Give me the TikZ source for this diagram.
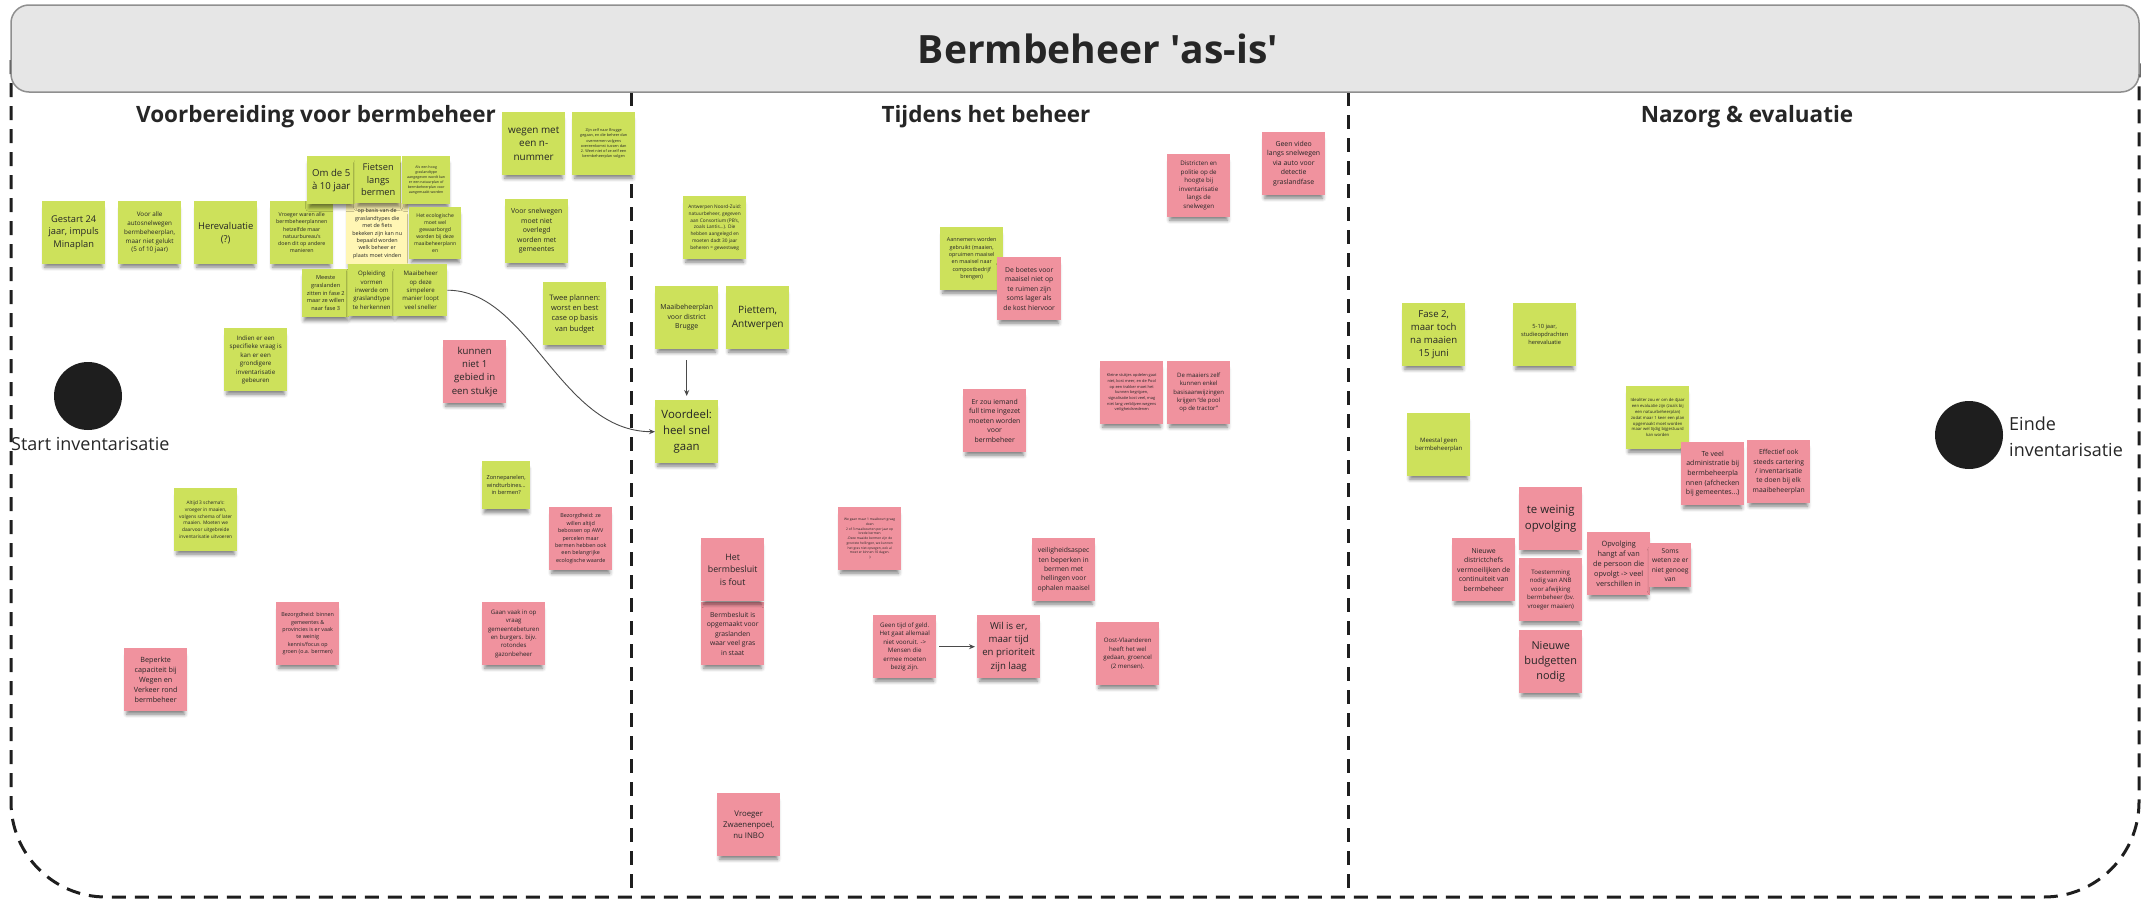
\documentclass[tikz,border=0pt]{standalone}
\usepackage{fontspec}
\setmainfont{Open Sans}
\usetikzlibrary{arrows.meta,shadows.blur}
\definecolor{ink}{HTML}{262626}
\definecolor{stickygreen}{HTML}{CDE15B}
\definecolor{stickypink}{HTML}{F0929E}
\definecolor{stickyyellow}{HTML}{FFF6B4}
\definecolor{headfill}{HTML}{E6E6E6}
\definecolor{headline}{HTML}{8F8F8F}
\definecolor{dot}{HTML}{1E1E1E}
\definecolor{wire}{HTML}{4A4A4A}
\tikzset{
  note/.style={anchor=north west, minimum width=63pt, minimum height=63pt,
    inner sep=1.5pt, align=center, text=ink,
    blur shadow={shadow xshift=0pt, shadow yshift=-6pt, shadow scale=0.92,
      shadow opacity=50, shadow blur radius=4pt}},
  gn/.style={note, fill=stickygreen},
  pn/.style={note, fill=stickypink},
  yn/.style={note, fill=stickyyellow},
  fs/.style 2 args={font=\fontsize{#1}{#2}\selectfont},
  wh/.style 2 args={minimum width=#1pt, minimum height=#2pt},
  frame/.style={draw=dot, line width=3pt, dash pattern=on 14pt off 9pt},
  lane/.style={font=\fontsize{22.5}{27}\selectfont\bfseries, text=ink},
  bigdot/.style={circle, fill=dot, minimum size=68pt, inner sep=0pt},
  arr/.style={draw=wire, line width=0.9pt, -{Stealth[length=6pt,width=5pt]}},
}
\begin{document}
\begin{tikzpicture}[x=1pt, y=-1pt]
\useasboundingbox (0,0) rectangle (2142,902);

% outer swimlane frame and lane dividers
\draw[frame, rounded corners=95pt] (11,60) -- (11,897) -- (2139,897) -- (2139,60);
\draw[frame] (631,92) -- (631,897);
\draw[frame] (1348,92) -- (1348,897);

% title bar
\node[draw=headline, fill=headfill, line width=1.5pt, rounded corners=18pt,
      minimum width=2128pt, minimum height=87pt] (hdr) at (1075,48.5) {};
\node[font=\fontsize{39}{47}\selectfont\bfseries, text=ink] (title) at (1098,48.5)
      {Bermbeheer \textquotesingle as-is\textquotesingle};

% lane titles
\node[lane] (lane1) at (316,117) {Voorbereiding voor bermbeheer};
\node[lane] (lane2) at (986,117) {Tijdens het beheer};
\node[lane] (lane3) at (1747,117) {Nazorg \& evaluatie};

% start and end markers
\node[bigdot] (startdot) at (88,396) {};
\node[anchor=base west, font=\fontsize{18}{26}\selectfont, text=ink, inner sep=0pt] (startlbl) at (11,450) {Start inventarisatie};
\node[bigdot] (enddot) at (1969,435) {};
\node[anchor=base west, align=left, font=\fontsize{18}{26}\selectfont, text=ink, inner sep=0pt] (endlbl) at (2009,456) {Einde\\inventarisatie};

% ---------- Voorbereiding voor bermbeheer ----------
\node[gn, fs={9.3}{12.8}] (gestart) at (42,201) {Gestart 24\\jaar, impuls\\Minaplan};
\node[gn, fs={6.3}{8.7}] (autosnel) at (118,201) {Voor alle\\autosnelwegen\\bermbeheerplan,\\maar niet gelukt\\(5 of 10 jaar)};
\node[gn, fs={9.4}{13}] (hereval) at (194,201) {Herevaluatie\\(?)};
\node[gn, fs={5.3}{7.3}] (vroeger) at (270,201) {Vroeger waren alle\\bermbeheerplannen\\hetzelfde maar\\natuurbureau's\\doen dit op andere\\manieren};
\node[yn, wh={62}{61}, fs={5.4}{7.4}] (opbasis) at (346,203) {op basis van de\\graslandtypes die\\met de fiets\\bekeken zijn kan nu\\bepaald worden\\welk beheer er\\plaats moet vinden};
\node[gn, wh={48}{48}, fs={9.6}{13.3}] (omde5) at (307,156) {Om de 5\\à 10 jaar};
\node[gn, wh={46}{47}, fs={9.3}{12.8}] (fietsen) at (355,156) {Fietsen\\langs\\bermen};
\node[gn, wh={48}{48}, fs={3.6}{5}] (hoog) at (402,156) {Als een hoog\\graslandtype\\aangegeven wordt kan\\er een natuurplan of\\bermbeheerplan voor\\aangemaakt worden};
\node[gn, wh={52}{52}, fs={5.1}{7}] (ecolog) at (409,207) {Het ecologische\\moet wel\\gewaarborgd\\worden bij deze\\maaibeheerplann\\en};
\node[gn, wh={47}{48}, fs={5.6}{7.7}] (meeste) at (302,269) {Meeste\\graslanden\\zitten in fase 2\\maar ze willen\\naar fase 3};
\node[gn, wh={47}{52}, fs={6.1}{8.4}] (opleiding) at (348,264) {Opleiding\\vormen\\inwerde om\\graslandtype\\te herkennen};
\node[gn, wh={53}{52}, fs={6.1}{8.4}] (maaisneller) at (394,264) {Maaibeheer\\op deze\\simpelere\\manier loopt\\veel sneller};
\node[gn, fs={6.2}{8.5}] (indien) at (224,328) {Indien er een\\specifieke vraag is\\kan er een\\grondigere\\inventarisatie\\gebeuren};
\node[gn, fs={9.9}{13.7}] (nnummer) at (502,112) {wegen met\\een n-\\nummer};
\node[gn, fs={3.8}{5.3}] (brugge1) at (572,112) {Zijn zelf naar Brugge\\gegaan, en die beheer dan\\overnemen volgens\\overeenkomst tussen dan\\2. Weet niet of ze zelf een\\bermbeheerplan volgen};
\node[gn, wh={63}{64}, fs={6.9}{9.5}] (snelwegen) at (505,199) {Voor snelwegen\\moet niet\\overlegd\\worden met\\gemeentes};
\node[gn, fs={7.5}{10.3}] (twee) at (543,282) {Twee plannen:\\worst en best\\case op basis\\van budget};
\node[pn, fs={9.6}{13.3}] (kunnen) at (443,340) {kunnen\\niet 1\\gebied in\\een stukje};
\node[gn, fs={4.8}{6.7}] (altijd) at (174,488) {Altijd 3 schema's:\\vroeger in maaien,\\volgens schema of later\\maaien. Moeten we\\daarvoor uitgebreide\\inventarisatie uitvoeren};
\node[gn, wh={48}{48}, fs={5.6}{7.7}] (zonne) at (482,461) {Zonnepanelen,\\windturbines...\\in bermen?};
\node[pn, fs={5.4}{7.4}] (bezorgd1) at (549,507) {Bezorgdheid: ze\\willen altijd\\bebossen op AWV\\percelen maar\\bermen hebben ook\\een belangrijke\\ecologische waarde};
\node[pn, fs={5.4}{7.4}] (bezorgd2) at (276,602) {Bezorgdheid: binnen\\gemeentes \&\\provincies is er vaak\\te weinig\\kennis/focus op\\groen (o.a. bermen)};
\node[pn, fs={6.1}{8.4}] (gaanvaak) at (482,602) {Gaan vaak in op\\vraag\\gemeentebeturen\\en burgers. bijv.\\rotondes\\gazonbeheer};
\node[pn, fs={7.2}{10}] (beperkt) at (124,648) {Beperkte\\capaciteit bij\\Wegen en\\Verkeer rond\\bermbeheer};

% ---------- Tijdens het beheer ----------
\node[gn, fs={4.8}{6.7}] (antw) at (683,196) {Antwerpen Noord-Zuid:\\natuurbeheer, gegeven\\aan Consortium (PB's,\\zoals Lantis...). Die\\hebben aangelegd en\\moeten dadt 30 jaar\\beheren = gewestweg};
\node[gn, fs={6.9}{9.5}] (district) at (655,286) {Maaibeheerplan\\voor district\\Brugge};
\node[gn, fs={10.1}{14}] (piettem) at (726,286) {Piettem,\\Antwerpen};
\node[gn, fs={11.4}{15.8}] (voordeel) at (655,400) {Voordeel:\\heel snel\\gaan};
\node[gn, fs={5.4}{7.4}] (aannemers) at (940,227) {Aannemers worden\\gebruikt (maaien,\\opruimen maaisel\\en maaisel naar\\compostbedrijf\\brengen)};
\node[pn, wh={64}{63}, fs={6.8}{9.4}] (boetes) at (997,257) {De boetes voor\\maaisel niet op\\te ruimen zijn\\soms lager als\\de kost hiervoor};
\node[pn, fs={6.9}{9.5}] (fulltime) at (963,389) {Er zou iemand\\full time ingezet\\moeten worden\\voor\\bermbeheer};
\node[pn, fs={6.2}{8.5}] (politie) at (1167,154) {Districten en\\politie op de\\hoogte bij\\inventarisatie\\langs de\\snelwegen};
\node[pn, fs={6.9}{9.5}] (video) at (1262,132) {Geen video\\langs snelwegen\\via auto voor\\detectie\\graslandfase};
\node[pn, fs={3.9}{5.7}] (kleine) at (1100,361) {Kleine stukjes opdelen gaat\\niet, kost meer, en de Pool\\op een trakker moet het\\kunnen begrijpen,\\signalisatie kost veel, mag\\niet lang verblijven wegens\\veiligheidsredenen};
\node[pn, fs={6}{8.3}] (maaiers) at (1167,361) {De maaiers zelf\\kunnen enkel\\basisaanwijzingen\\krijgen “de pool\\op de tractor”};
\node[pn, fs={6.8}{9.4}] (opgemaakt) at (701,602) {Bermbesluit is\\opgemaakt voor\\graslanden\\waar veel gras\\in staat};
\node[pn, fs={8.8}{12.2}] (fout) at (701,538) {Het\\bermbesluit\\is fout};
\node[pn, fs={3.3}{4.7}] (maaibeurt) at (838,507) {We gaan maar 1 maaibeurt graag\\doen\\2 of 3 maaibeurten per jaar op\\brede bermen\\-Deze maaide bermen zijn de\\grootste hellingen, we kunnen\\het gras niet opvegen, ook al\\moet er binnen 10 dagen.\\:)};
\node[pn, fs={6.2}{8.5}] (geentijd) at (873,615) {Geen tijd of geld.\\Het gaat allemaal\\niet vooruit. ->\\Mensen die\\ermee moeten\\bezig zijn.};
\node[pn, fs={9.6}{13.2}] (wilis) at (977,615) {Wil is er,\\maar tijd\\en prioriteit\\zijn laag};
\node[pn, fs={6.8}{9.4}] (veilig) at (1032,538) {veiligheidsaspec\\ten beperken in\\bermen met\\hellingen voor\\ophalen maaisel};
\node[pn, fs={6.1}{8.4}] (oostvl) at (1096,622) {Oost-Vlaanderen\\heeft het wel\\gedaan, groencel\\(2 mensen).};
\node[pn, fs={7.8}{10.7}] (inbo) at (717,793) {Vroeger\\Zwaenenpoel,\\nu INBO};

% ---------- Nazorg & evaluatie ----------
\node[gn, fs={9.6}{13.2}] (fase2) at (1402,303) {Fase 2,\\maar toch\\na maaien\\15 juni};
\node[gn, fs={5.7}{7.8}] (studie) at (1513,303) {5-10 jaar,\\studieopdrachten\\herevaluatie};
\node[gn, fs={6}{8.3}] (meestal) at (1407,413) {Meestal geen\\bermbeheerplan};
\node[gn, fs={4.2}{5.8}] (idealiter) at (1626,386) {Idealiter zou er om de 4jaar\\een evaluatie zijn (zoals bij\\een natuurbeheerplan)\\zodat maar 1 keer een plan\\opgemaakt moet worden\\maar wel tijdig bijgestuurd\\kan worden};
\node[pn, fs={7}{9.6}] (admin) at (1681,442) {Te veel\\administratie bij\\bermbeheerpla\\nnen (afchecken\\bij gemeentes...)};
\node[pn, fs={6.8}{9.4}] (effectief) at (1747,440) {Effectief ook\\steeds cartering\\/ inventarisatie\\te doen bij elk\\maaibeheerplan};
\node[pn, fs={11.4}{15.7}] (weinig) at (1519,487) {te weinig\\opvolging};
\node[pn, fs={6.9}{9.5}] (chefs) at (1452,538) {Nieuwe\\districtchefs\\vermoeilijken de\\continuiteit van\\bermbeheer};
\node[pn, fs={6.1}{8.4}] (anb) at (1519,558) {Toestemming\\nodig van ANB\\voor afwijking\\bermbeheer (bv.\\vroeger maaien)};
\node[pn, fs={10.9}{15}] (budget) at (1519,630) {Nieuwe\\budgetten\\nodig};
\node[pn, fs={7.3}{10.1}] (persoon) at (1587,532) {Opvolging\\hangt af van\\de persoon die\\opvolgt -> veel\\verschillen in};
\node[pn, wh={42}{44}, fs={6.7}{9.3}] (soms) at (1649,543) {Soms\\weten ze er\\niet genoeg\\van};

% connectors
\draw[arr] (maaisneller.east) .. controls +(82,0) and +(-95,0) .. (voordeel.west);
\draw[arr, shorten <=11pt, shorten >=4pt] (district.south) -- (voordeel.north);
\draw[arr, shorten <=3pt, shorten >=2pt] (geentijd.east) -- (wilis.west);
\end{tikzpicture}
\end{document}
